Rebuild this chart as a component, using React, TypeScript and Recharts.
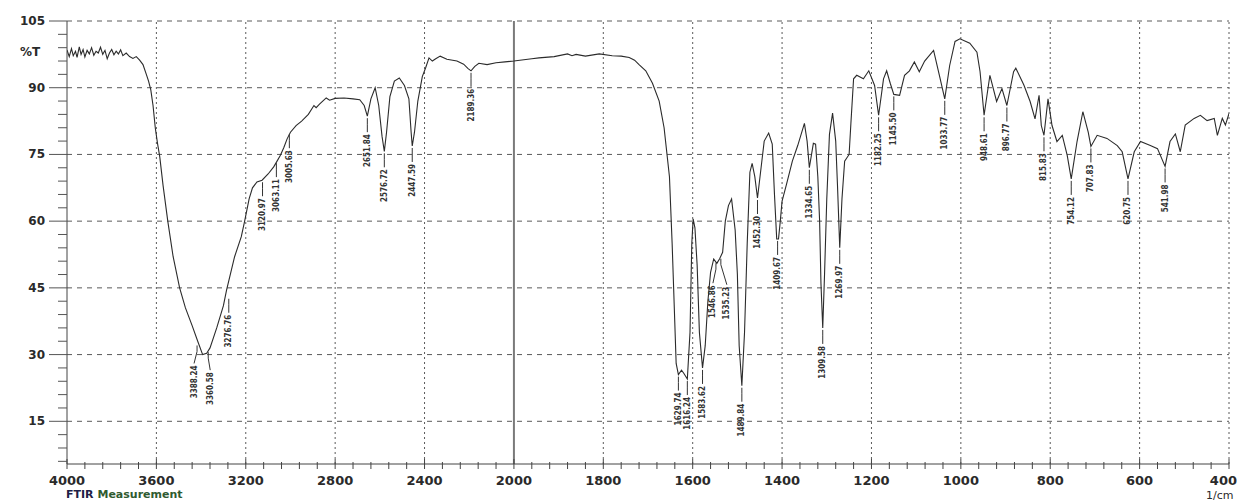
import { ComposedChart, Line, Scatter, XAxis, YAxis, ReferenceLine } from "recharts"

// spectrum, wavenumber (1/cm) and %T
const wavenumbers = [
  4000, 3990, 3980, 3972, 3962, 3955, 3945, 3937, 3928, 3920, 3910, 3900, 3890, 3880, 3870, 3860, 3850, 3840,
  3830, 3820, 3810, 3800, 3790, 3780, 3770, 3760, 3750, 3735, 3720, 3705, 3690, 3675, 3660, 3645, 3635, 3625,
  3615, 3605, 3595, 3585, 3570, 3549, 3525, 3496, 3470, 3440, 3415, 3393, 3375, 3360, 3330, 3300, 3286, 3250,
  3220, 3205, 3185, 3170, 3150, 3127, 3100, 3075, 3060, 3045, 3030, 3015, 3000, 2975, 2950, 2920, 2895, 2885,
  2870, 2840, 2825, 2800, 2760, 2720, 2690, 2670, 2656, 2640, 2621, 2605, 2590, 2580, 2570, 2555, 2535, 2513,
  2490, 2470, 2460, 2455, 2445, 2430, 2410, 2395, 2380, 2365, 2350, 2330, 2300, 2255, 2225, 2205, 2192, 2175,
  2157, 2120, 2080, 2040, 2000, 1960, 1944, 1910, 1880, 1870, 1861, 1840, 1809, 1780, 1760, 1742, 1730, 1720,
  1705, 1690, 1675, 1664, 1652, 1646, 1641, 1637, 1632, 1625, 1620, 1612, 1606, 1602, 1599, 1595, 1590, 1585,
  1578, 1572, 1566, 1560, 1553, 1546, 1540, 1533, 1527, 1520, 1513, 1505, 1500, 1496, 1490, 1484, 1478, 1472,
  1467, 1461, 1455, 1447, 1440, 1430, 1422, 1417, 1412, 1408, 1404, 1400, 1390, 1377, 1365, 1350, 1344, 1339,
  1330, 1325, 1320, 1316, 1313, 1309, 1305, 1300, 1294, 1287, 1280, 1276, 1271, 1266, 1260, 1250, 1246, 1240,
  1233, 1218, 1206, 1193, 1184, 1173, 1166, 1158, 1150, 1137, 1126, 1115, 1104, 1093, 1081, 1061, 1048, 1036,
  1025, 1013, 1002, 980, 964, 957, 948, 935, 920, 908, 897, 882, 877, 859, 845, 834, 825, 820, 814, 805, 796,
  785, 773, 762, 753, 740, 727, 715, 709, 695, 673, 650, 639, 626, 612, 598, 576, 560, 543, 532, 520, 509, 498,
  478, 464, 449, 433, 426, 415, 408, 400,
]

const transmittance = [
  98.5, 97, 98.8, 97.2, 98.2, 96.8, 99.2, 97.5, 98.6, 96.9, 98.4, 97.6, 99, 97.3, 98.2, 97.8, 99.1, 97.5,
  98.4, 96.5, 97.8, 98.6, 97.4, 98.2, 97.6, 98.5, 97.2, 97.8, 97, 96.6, 97, 96.2, 95.2, 93, 91.5, 89.5,
  86, 81, 77.5, 74.5, 68, 60, 52, 45, 40.5, 36.5, 33, 30, 30.3, 31.5, 36, 41, 44.5, 52,
  56.5, 60, 65, 67.5, 68.8, 69.2, 70.6, 72.2, 73.5, 74.8, 76.5, 78.5, 80, 81.5, 82.5, 84, 86, 85.5,
  86.3, 87.7, 87.2, 87.6, 87.7, 87.5, 87.3, 86, 83.6, 87.5, 90, 86, 79, 75.7, 80, 88, 91.5, 92.2,
  90.5, 87.5, 80, 76.9, 80, 87, 92.5, 94.5, 96.7, 96, 96.5, 97.1, 96.4, 96, 95.3, 94.3, 93.8, 94.8,
  95.5, 95.2, 95.6, 95.8, 96, 96.5, 96.7, 97, 97.6, 97.2, 97.5, 97.1, 97.6, 97.2, 97.1, 96.8, 96.2, 95.2,
  93.8, 91, 87, 81, 70, 55, 40, 28, 25.5, 26.5, 25.8, 24.5, 35, 55, 60.5, 58.5, 50, 35,
  27, 32, 42, 48.5, 51.5, 50.5, 51.5, 53, 60, 63.5, 65, 58, 48, 32, 23, 35, 55, 71,
  73, 70, 65.2, 72, 78, 79.8, 77.3, 66, 56, 56, 60, 64.5, 68.3, 73.5, 77, 82, 78, 72,
  77.5, 77.3, 70, 60, 46, 36, 48, 65, 79.5, 84.3, 78, 68, 54, 65, 73.5, 75, 82, 92,
  92.8, 92, 93.8, 90.5, 83.8, 92, 93.8, 91, 88.5, 88.3, 92.8, 93.8, 95.8, 93.6, 96, 98.4, 92.8, 87.5,
  95, 100.4, 101, 100, 98, 93.6, 83.8, 92.8, 86.9, 89.8, 86, 93.6, 94.4, 90.6, 86.9, 83, 88.3, 81.5, 79.3, 87.5, 81.5,
  77.9, 79.3, 74.8, 69.5, 77.9, 84.6, 80, 76.8, 79.3, 78.6, 77, 75.6, 69.5, 75.6, 77.9, 77, 76.3, 72.3, 77.9, 79.6, 75.6, 81.6,
  83.1, 83.8, 82.6, 83.1, 79.3, 83.1, 81.6, 84.2,
]

// peak picks printed under the trace
const peakWavenumbers = [
  3418, 3368, 3276, 3125, 3063, 3005, 2656, 2580, 2455, 2192, 1632, 1612, 1578, 1548, 1537, 1490, 1455, 1410,
  1339, 1309, 1271, 1184, 1150, 1036, 948, 897, 814, 753, 709, 626, 543,
]
const peakTransmittance = [
  32.5, 31, 43, 69.2, 73.5, 80, 83.6, 75.7, 76.9, 93.8, 25.5, 24.5, 27, 51, 52, 23, 65.2, 56,
  72, 36, 54, 83.8, 88.5, 87.5, 83.8, 86, 79.3, 69.5, 76.8, 69.5, 72.3,
]
const peakLabels = [
  "3388.24", "3360.58", "3276.76", "3120.97", "3063.11", "3005.63", "2651.84", "2576.72", "2447.59", "2189.36",
  "1629.74", "1616.24", "1583.62", "1546.86", "1535.23", "1489.84", "1452.30", "1409.67", "1334.65", "1309.58",
  "1269.97", "1182.25", "1145.50", "1033.77", "948.61", "896.77", "815.83", "754.12", "707.83", "620.75", "541.98",
]

const xTickLabels = [4000, 3600, 3200, 2800, 2400, 2000, 1800, 1600, 1400, 1200, 1000, 800, 600, 400]
const yTickLabels = [105, 90, 75, 60, 45, 30, 15]

// the recorder doubles the scale below 2000 1/cm, so plot against gridline position
const toPos = (w: number) => (w >= 2000 ? (4000 - w) / 400 : 5 + (2000 - w) / 200)

const spectrum = wavenumbers.map((w, i) => ({ pos: toPos(w), t: transmittance[i] }))
const peaks = peakWavenumbers.map((w, i) => ({ pos: toPos(w), t: peakTransmittance[i], label: peakLabels[i] }))

const xTicks = Array.from({ length: 66 }, (_, i) => i / 5)
const yTicks = Array.from({ length: 34 }, (_, i) => 6 + i * 3)

// crowded labels get pushed aside on a slanted leader, like the printout does
const labelNudge: Record<string, { dx: number; dy: number }> = {
  "3388.24": { dx: -3, dy: 4 },
  "3360.58": { dx: 2, dy: 4 },
  "1546.86": { dx: -3, dy: 6 },
  "1535.23": { dx: 6, dy: 12 },
}

const FONT = "'DejaVu Sans', Verdana, sans-serif"

const XTick = ({ x, y, payload }: any) => {
  const v = payload.value
  const major = Math.abs(v - Math.round(v)) < 1e-6
  const last = Math.round(v) === xTickLabels.length - 1
  return (
    <g>
      <line x1={x} x2={x} y1={major ? y - 5 : y - 2} y2={y + 5} stroke="#444" />
      {major && (
        <text
          x={last ? x + 8 : x}
          y={y + 21}
          textAnchor={last ? "end" : "middle"}
          fontSize={13}
          fontWeight="bold"
          fill="#2a2a2a"
          fontFamily={FONT}
        >
          {xTickLabels[Math.round(v)]}
        </text>
      )}
    </g>
  )
}

const YTick = ({ x, y, payload }: any) => {
  const v = payload.value
  const major = v % 15 === 0
  return (
    <g>
      <line x1={major ? x - 18 : x - 9} x2={x} y1={y} y2={y} stroke="#555" />
      {major && (
        <text x={x - 22} y={y + 4} textAnchor="end" fontSize={12} fontWeight="bold" fill="#2a2a2a" fontFamily={FONT}>
          {v}
        </text>
      )}
    </g>
  )
}

const PeakMark = ({ cx, cy, payload }: any) => {
  const n = labelNudge[payload.label] || { dx: 0, dy: 0 }
  const tx = cx + n.dx
  const ty = cy + 18 + n.dy
  return (
    <g>
      <polyline
        points={`${cx},${cy + 2} ${cx},${cy + 8} ${tx},${ty - 2}`}
        fill="none"
        stroke="#333"
        strokeWidth={1}
      />
      <text
        x={tx}
        y={ty}
        transform={`rotate(-90, ${tx}, ${ty})`}
        textAnchor="end"
        dominantBaseline="central"
        fontSize={8}
        fontWeight="bold"
        fill="#333"
        fontFamily="'DejaVu Sans Condensed', 'DejaVu Sans', sans-serif"
      >
        {payload.label}
      </text>
    </g>
  )
}

export default function App() {
  return (
    <div style={{ position: "absolute", left: 0, top: 0, width: 1237, height: 502, background: "#fff" }}>
      <ComposedChart width={1237} height={502} data={spectrum} margin={{ top: 21, right: 8, left: 0, bottom: 0 }}>
        {yTickLabels.map((v) => (
          <ReferenceLine key={"h" + v} y={v} stroke="#5a5a5a" strokeDasharray="5 5" />
        ))}
        {xTickLabels.map((_, i) =>
          i === 0 ? null : (
            <ReferenceLine
              key={"v" + i}
              x={i}
              stroke={i === 5 ? "#7a7a7a" : "#5a5a5a"}
              strokeWidth={i === 5 ? 2 : 1}
              strokeDasharray={i === 5 ? undefined : "2 3"}
            />
          )
        )}
        <XAxis
          type="number"
          dataKey="pos"
          domain={[0, 13]}
          ticks={xTicks}
          interval={0}
          allowDataOverflow
          height={38}
          tickSize={0}
          tickMargin={0}
          tickLine={false}
          axisLine={{ stroke: "#444" }}
          tick={<XTick />}
        />
        <YAxis
          type="number"
          domain={[5.4, 105]}
          ticks={yTicks}
          interval={0}
          allowDataOverflow
          width={67}
          tickSize={0}
          tickMargin={0}
          tickLine={false}
          axisLine={{ stroke: "#444" }}
          tick={<YTick />}
        />
        <Line
          type="linear"
          dataKey="t"
          stroke="#2b2b2b"
          strokeWidth={1.1}
          dot={false}
          isAnimationActive={false}
        />
        <Scatter data={peaks} dataKey="t" shape={<PeakMark />} isAnimationActive={false} />
      </ComposedChart>
      <div style={{ position: "absolute", left: 20, top: 45, fontFamily: FONT, fontSize: 12, fontWeight: "bold", color: "#2a2a2a" }}>
        %T
      </div>
      <div
        style={{
          position: "absolute",
          left: 66,
          top: 488,
          fontFamily: FONT,
          fontSize: 11,
          lineHeight: "13px",
          fontWeight: "bold",
          whiteSpace: "nowrap",
        }}
      >
        <span style={{ color: "#1e2046" }}>FTIR</span> <span style={{ color: "#2f5a30" }}>Measurement</span>
      </div>
      <div style={{ position: "absolute", left: 1206, top: 489, fontFamily: FONT, fontSize: 11, lineHeight: "13px", color: "#2a2a2a" }}>
        1/cm
      </div>
    </div>
  )
}
